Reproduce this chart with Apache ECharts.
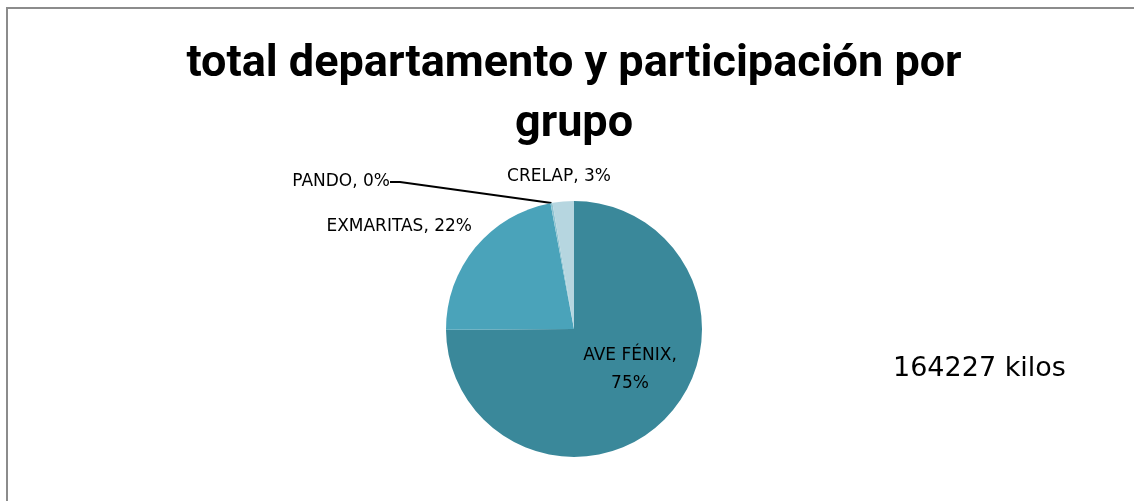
<!DOCTYPE html>
<html>
<head>
<meta charset="utf-8">
<script src="https://cdn.jsdelivr.net/npm/echarts@6/dist/echarts.min.js"></script>
<style>
  html, body { margin: 0; padding: 0; background: #fff; overflow: hidden; }
  #frame { position: absolute; left: 6px; top: 7px; width: 1200px; height: 600px;
           border-left: 2px solid #8c8c8c; border-top: 2px solid #8c8c8c; }
  #chart { position: absolute; left: 7px; top: 0; width: 1134px; height: 501px; }
</style>
</head>
<body>
<div id="frame"></div>
<div id="chart"></div>
<script>
// datos del gráfico
const groups = ['AVE FÉNIX', 'EXMARITAS', 'PANDO', 'CRELAP'];
const kilos = [123000, 36400, 400, 4427];
const colors = ['#3a889a', '#4aa3ba', '#8fc4d2', '#b6d6e0'];
const titleText = 'total departamento y participación por\ngrupo';
const unitText = 'kilos';

// posiciones de las etiquetas (coordenadas del gráfico)
const labelPos = [
  { x: 623, y: 370, align: 'center' },
  { x: 465, y: 227, align: 'right' },
  { x: 383, y: 182, align: 'right' },
  { x: 552, y: 177, align: 'center' }
];

const total = kilos.reduce((a, b) => a + b, 0);

const chart = echarts.init(document.getElementById('chart'));

const option = {
  animation: false,
  title: {
    text: titleText,
    left: 'center',
    top: 30,
    textStyle: {
      fontFamily: 'Roboto',
      fontWeight: 'bold',
      fontSize: 45,
      lineHeight: 60,
      color: '#000'
    }
  },
  graphic: [{
    type: 'text',
    left: 886,
    top: 355,
    style: {
      text: total + ' ' + unitText,
      fontFamily: 'DejaVu Sans',
      fontSize: 27,
      fill: '#000'
    }
  }],
  series: [{
    type: 'pie',
    center: ['50%', 329],
    radius: 128,
    startAngle: 90,
    clockwise: true,
    percentPrecision: 0,
    avoidLabelOverlap: false,
    label: {
      color: '#000',
      fontFamily: 'DejaVu Sans',
      fontSize: 17,
      lineHeight: 28,
      formatter: p => p.dataIndex === 0 ? p.name + ',\n' + p.percent + '%' : p.name + ', ' + p.percent + '%'
    },
    labelLine: { show: false },
    labelLayout: p => ({
      x: labelPos[p.dataIndex].x,
      y: labelPos[p.dataIndex].y,
      align: labelPos[p.dataIndex].align,
      verticalAlign: 'middle'
    }),
    data: groups.map((g, i) => ({
      name: g,
      value: kilos[i],
      itemStyle: { color: colors[i] },
      label: i === 0 ? { position: 'inside' } : {},
      labelLine: i === 2 ? { show: true, length: 20, length2: 10, lineStyle: { color: '#000', width: 2 } } : { show: false }
    }))
  }]
};

chart.setOption(option);
</script>
</body>
</html>
